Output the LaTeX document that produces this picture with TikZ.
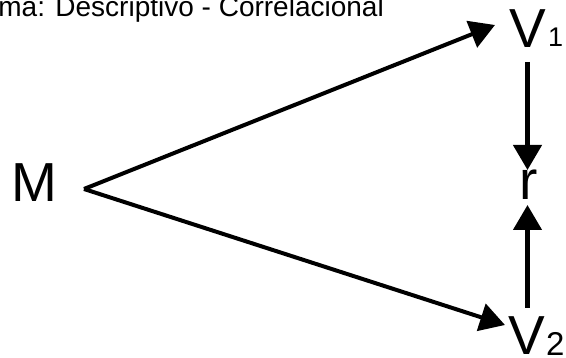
\documentclass[tikz,border=0pt]{standalone}
\usepackage{fontspec}
\setmainfont{Liberation Sans}
\usetikzlibrary{arrows.meta}
\begin{document}
\begin{tikzpicture}[x=1pt,y=-1pt,
  lbl/.style={inner sep=0pt,outer sep=0pt,anchor=base west},
  big/.style={lbl,font=\fontsize{55}{55}\selectfont},
  sub/.style={lbl,font=\fontsize{27}{27}\selectfont},
  conn/.style={line width=4pt,-{Triangle[length=25pt,width=28pt]}},
  vconn/.style={line width=4.5pt,-{Triangle[length=25pt,width=28pt]}}]
\useasboundingbox (0,0) rectangle (566,358);
\clip (0,0) rectangle (566,358);
\node[inner sep=0pt,anchor=base east,font=\fontsize{28}{28}\selectfont] (title) at (384,17) {ma: Descriptivo - Correlacional};
\node[big] (M) at (12,202) {M};
\node[big] (V1) at (509,48) {V};
\node[sub] (s1) at (548,47) {1};
\node[big] (V2) at (508,355) {V};
\node[sub,font=\fontsize{33}{33}\selectfont] (s2) at (546,356) {2};
\node[big] (r) at (519,200) {r};
\coordinate (mtip) at (84,189);
\coordinate (v1in) at (495,25);
\coordinate (v2in) at (505,325);
\coordinate (v1out) at (527.5,62);
\coordinate (rtop) at (527.5,170);
\coordinate (v2out) at (527.5,308);
\coordinate (rbot) at (527.5,205);
\draw[conn] (mtip) -- (v1in);
\draw[conn] (mtip) -- (v2in);
\draw[vconn] (v1out) -- (rtop);
\draw[vconn] (v2out) -- (rbot);
\end{tikzpicture}
\end{document}
